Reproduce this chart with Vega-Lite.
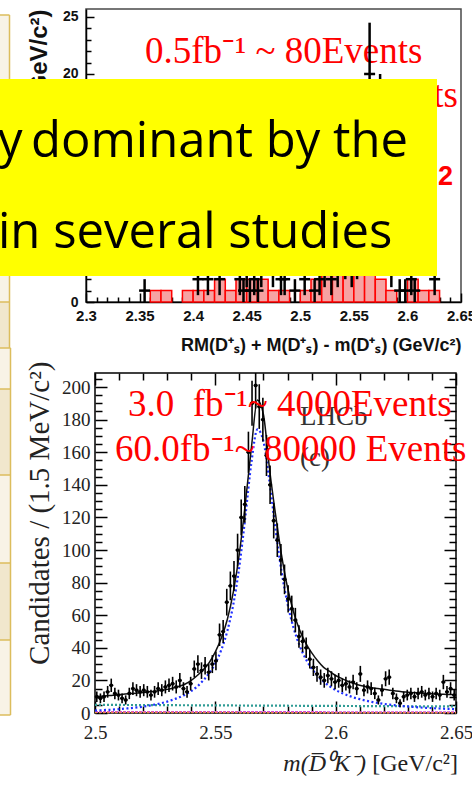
{
  "$schema": "https://vega.github.io/schema/vega-lite/v6.json",
  "autosize": {"type": "none"},
  "padding": {"left": 86, "top": 9, "right": 386, "bottom": 778},
  "background": "white",
  "config": {"font": "Liberation Sans", "axis": {"grid": false}},
  "align": "each",
  "bounds": "full",
  "spacing": -8,
  "datasets": {
    "stripTop": [
      {"x1": 2.21787, "x2": 2.2286, "y1": 25.174, "y2": 0, "tone": "light"},
      {"x1": 2.21787, "x2": 2.2286, "y1": 0, "y2": -4.21, "tone": "dark"}
    ],
    "edgeTop": [
      {"x1": 2.2188, "x2": 2.2286, "y1": 25.174, "y2": 25.174},
      {"x1": 2.2188, "x2": 2.2286, "y1": 0, "y2": 0},
      {"x1": 2.2286, "x2": 2.2286, "y1": 25.174, "y2": -4.21}
    ],
    "stripBot": [
      {"x1": 2.459695, "x2": 2.464889, "y1": 223.94, "y2": 198.78, "tone": "light"},
      {"x1": 2.459695, "x2": 2.464889, "y1": 198.78, "y2": 146.02, "tone": "dark"},
      {"x1": 2.459695, "x2": 2.464889, "y1": 146.02, "y2": 92.03, "tone": "light"},
      {"x1": 2.459695, "x2": 2.464889, "y1": 92.03, "y2": 44.79, "tone": "dark"},
      {"x1": 2.459695, "x2": 2.464889, "y1": 44.79, "y2": -1.227, "tone": "light"}
    ],
    "edgeBot": [
      {"x1": 2.460111, "x2": 2.464889, "y1": 223.94, "y2": 223.94},
      {"x1": 2.460111, "x2": 2.464889, "y1": 198.78, "y2": 198.78},
      {"x1": 2.460111, "x2": 2.464889, "y1": 146.02, "y2": 146.02},
      {"x1": 2.460111, "x2": 2.464889, "y1": 92.03, "y2": 92.03},
      {"x1": 2.460111, "x2": 2.464889, "y1": 44.79, "y2": 44.79},
      {"x1": 2.460111, "x2": 2.464889, "y1": -1.227, "y2": -1.227},
      {"x1": 2.464889, "x2": 2.464889, "y1": 223.94, "y2": -1.227}
    ],
    "bins": [
      {"lo": 2.36, "hi": 2.37, "n": 1}, {"lo": 2.37, "hi": 2.38, "n": 1},
      {"lo": 2.39, "hi": 2.40, "n": 1}, {"lo": 2.40, "hi": 2.41, "n": 1},
      {"lo": 2.41, "hi": 2.42, "n": 1}, {"lo": 2.42, "hi": 2.43, "n": 2},
      {"lo": 2.43, "hi": 2.44, "n": 1}, {"lo": 2.44, "hi": 2.45, "n": 2},
      {"lo": 2.45, "hi": 2.46, "n": 2}, {"lo": 2.46, "hi": 2.47, "n": 2},
      {"lo": 2.47, "hi": 2.48, "n": 1}, {"lo": 2.48, "hi": 2.49, "n": 1},
      {"lo": 2.50, "hi": 2.51, "n": 1}, {"lo": 2.51, "hi": 2.52, "n": 2},
      {"lo": 2.52, "hi": 2.53, "n": 3}, {"lo": 2.53, "hi": 2.54, "n": 3},
      {"lo": 2.54, "hi": 2.55, "n": 4}, {"lo": 2.55, "hi": 2.56, "n": 4},
      {"lo": 2.56, "hi": 2.57, "n": 3}, {"lo": 2.57, "hi": 2.58, "n": 2},
      {"lo": 2.58, "hi": 2.59, "n": 1}, {"lo": 2.60, "hi": 2.61, "n": 2},
      {"lo": 2.61, "hi": 2.62, "n": 1}, {"lo": 2.62, "hi": 2.63, "n": 1}
    ],
    "bes": [
      {"m": 2.3547, "n": 1, "e": 1}, {"m": 2.4045, "n": 2, "e": 1.4},
      {"m": 2.4138, "n": 2, "e": 1.4}, {"m": 2.4247, "n": 2, "e": 1.4},
      {"m": 2.4436, "n": 2, "e": 1.4}, {"m": 2.447, "n": 1, "e": 1},
      {"m": 2.45, "n": 3, "e": 1.7}, {"m": 2.453, "n": 1, "e": 1},
      {"m": 2.457, "n": 2, "e": 1.4}, {"m": 2.4605, "n": 1, "e": 1},
      {"m": 2.4636, "n": 3, "e": 1.7}, {"m": 2.4745, "n": 3, "e": 1.7},
      {"m": 2.482, "n": 2, "e": 1.4}, {"m": 2.4854, "n": 2, "e": 1.4},
      {"m": 2.495, "n": 1, "e": 1}, {"m": 2.5041, "n": 2, "e": 1.4},
      {"m": 2.5134, "n": 1, "e": 1}, {"m": 2.518, "n": 2, "e": 1.4},
      {"m": 2.5227, "n": 3, "e": 1.7}, {"m": 2.529, "n": 2, "e": 1.4},
      {"m": 2.5349, "n": 3, "e": 1.7}, {"m": 2.542, "n": 4, "e": 2},
      {"m": 2.548, "n": 3, "e": 1.7}, {"m": 2.553, "n": 4, "e": 2},
      {"m": 2.56, "n": 5, "e": 2.2}, {"m": 2.5647, "n": 20, "e": 4.5},
      {"m": 2.5745, "n": 16, "e": 4}, {"m": 2.585, "n": 3, "e": 1.7},
      {"m": 2.5928, "n": 1, "e": 1}, {"m": 2.598, "n": 1, "e": 1},
      {"m": 2.6036, "n": 2, "e": 1.4}, {"m": 2.6068, "n": 1, "e": 1},
      {"m": 2.6254, "n": 2, "e": 1.4}
    ],
    "lhcb": [
      {"m": 2.50075, "n": 10, "e": 3.2}, {"m": 2.50225, "n": 9, "e": 3}, {"m": 2.50375, "n": 10, "e": 3.2},
      {"m": 2.50525, "n": 13, "e": 3.6}, {"m": 2.50675, "n": 17, "e": 4.1}, {"m": 2.50825, "n": 12, "e": 3.5},
      {"m": 2.50975, "n": 11, "e": 3.3}, {"m": 2.51125, "n": 9, "e": 3}, {"m": 2.51275, "n": 8, "e": 2.8},
      {"m": 2.51425, "n": 12, "e": 3.5}, {"m": 2.51575, "n": 15, "e": 3.9}, {"m": 2.51725, "n": 14, "e": 3.7},
      {"m": 2.51875, "n": 13, "e": 3.6}, {"m": 2.52025, "n": 14, "e": 3.7}, {"m": 2.52175, "n": 13, "e": 3.6},
      {"m": 2.52325, "n": 11, "e": 3.3}, {"m": 2.52475, "n": 13, "e": 3.6}, {"m": 2.52625, "n": 15, "e": 3.9},
      {"m": 2.52775, "n": 14, "e": 3.7}, {"m": 2.52925, "n": 16, "e": 4}, {"m": 2.53075, "n": 17, "e": 4.1},
      {"m": 2.53225, "n": 18, "e": 4.2}, {"m": 2.53375, "n": 16, "e": 4}, {"m": 2.53525, "n": 20, "e": 4.5},
      {"m": 2.53675, "n": 15, "e": 3.9}, {"m": 2.53825, "n": 13, "e": 3.6}, {"m": 2.53975, "n": 18, "e": 4.2},
      {"m": 2.54125, "n": 27, "e": 5.2}, {"m": 2.54275, "n": 30, "e": 5.5}, {"m": 2.54425, "n": 26, "e": 5.1},
      {"m": 2.54575, "n": 29, "e": 5.4}, {"m": 2.54725, "n": 25, "e": 5}, {"m": 2.54875, "n": 30, "e": 5.5},
      {"m": 2.55025, "n": 32, "e": 5.7}, {"m": 2.55175, "n": 48, "e": 6.9}, {"m": 2.55325, "n": 50, "e": 7.1},
      {"m": 2.55475, "n": 68, "e": 8.2}, {"m": 2.55625, "n": 78, "e": 8.8}, {"m": 2.55775, "n": 84, "e": 9.2},
      {"m": 2.55925, "n": 100, "e": 10}, {"m": 2.56075, "n": 120, "e": 11}, {"m": 2.56225, "n": 128, "e": 11.3},
      {"m": 2.56375, "n": 160, "e": 12.6}, {"m": 2.56525, "n": 190, "e": 13.8}, {"m": 2.56675, "n": 201, "e": 14.2},
      {"m": 2.56825, "n": 188, "e": 13.7}, {"m": 2.56975, "n": 180, "e": 13.4}, {"m": 2.57125, "n": 158, "e": 12.6},
      {"m": 2.57275, "n": 140, "e": 11.8}, {"m": 2.57425, "n": 118, "e": 10.9}, {"m": 2.57575, "n": 106, "e": 10.3},
      {"m": 2.57725, "n": 94, "e": 9.7}, {"m": 2.57875, "n": 82, "e": 9.1}, {"m": 2.58025, "n": 70, "e": 8.4},
      {"m": 2.58175, "n": 64, "e": 8}, {"m": 2.58325, "n": 57, "e": 7.5}, {"m": 2.58475, "n": 47, "e": 6.9},
      {"m": 2.58625, "n": 44, "e": 6.6}, {"m": 2.58775, "n": 40, "e": 6.3}, {"m": 2.58925, "n": 33, "e": 5.7},
      {"m": 2.59075, "n": 28, "e": 5.3}, {"m": 2.59225, "n": 24, "e": 4.9}, {"m": 2.59375, "n": 22, "e": 4.7},
      {"m": 2.59525, "n": 20, "e": 4.5}, {"m": 2.59675, "n": 23, "e": 4.8}, {"m": 2.59825, "n": 21, "e": 4.6},
      {"m": 2.59975, "n": 19, "e": 4.4}, {"m": 2.60125, "n": 20, "e": 4.5}, {"m": 2.60275, "n": 17, "e": 4.1},
      {"m": 2.60425, "n": 18, "e": 4.2}, {"m": 2.60575, "n": 16, "e": 4}, {"m": 2.60725, "n": 19, "e": 4.4},
      {"m": 2.60875, "n": 15, "e": 3.9}, {"m": 2.61025, "n": 24, "e": 4.9}, {"m": 2.61175, "n": 14, "e": 3.7},
      {"m": 2.61325, "n": 16, "e": 4}, {"m": 2.61475, "n": 15, "e": 3.9}, {"m": 2.61625, "n": 12, "e": 3.5},
      {"m": 2.61775, "n": 8, "e": 2.8}, {"m": 2.61925, "n": 14, "e": 3.7}, {"m": 2.62075, "n": 21, "e": 4.6},
      {"m": 2.62225, "n": 22, "e": 4.7}, {"m": 2.62375, "n": 12, "e": 3.5}, {"m": 2.62525, "n": 9, "e": 3},
      {"m": 2.62675, "n": 6, "e": 2.4}, {"m": 2.62825, "n": 10, "e": 3.2}, {"m": 2.62975, "n": 11, "e": 3.3},
      {"m": 2.63125, "n": 12, "e": 3.5}, {"m": 2.63275, "n": 10, "e": 3.2}, {"m": 2.63425, "n": 12, "e": 3.5},
      {"m": 2.63575, "n": 13, "e": 3.6}, {"m": 2.63725, "n": 11, "e": 3.3}, {"m": 2.63875, "n": 12, "e": 3.5},
      {"m": 2.64025, "n": 10, "e": 3.2}, {"m": 2.64175, "n": 12, "e": 3.5}, {"m": 2.64325, "n": 11, "e": 3.3},
      {"m": 2.64475, "n": 19, "e": 4.4}, {"m": 2.64625, "n": 13, "e": 3.6}, {"m": 2.64775, "n": 15, "e": 3.9},
      {"m": 2.64925, "n": 11, "e": 3.3}
    ],
    "fit": [
      {"m": 2.5, "tot": 10.0, "sig": 1.5}, {"m": 2.5025, "tot": 10.3, "sig": 1.7},
      {"m": 2.505, "tot": 10.6, "sig": 1.9}, {"m": 2.5075, "tot": 10.9, "sig": 2.1},
      {"m": 2.51, "tot": 11.3, "sig": 2.4}, {"m": 2.5125, "tot": 11.6, "sig": 2.7},
      {"m": 2.515, "tot": 11.9, "sig": 3.0}, {"m": 2.5175, "tot": 12.2, "sig": 3.4},
      {"m": 2.52, "tot": 12.6, "sig": 3.9}, {"m": 2.5225, "tot": 13.0, "sig": 4.5},
      {"m": 2.525, "tot": 13.4, "sig": 5.2}, {"m": 2.5275, "tot": 13.9, "sig": 6.0},
      {"m": 2.53, "tot": 14.5, "sig": 7.0}, {"m": 2.5325, "tot": 15.3, "sig": 8.2},
      {"m": 2.535, "tot": 16.4, "sig": 9.6}, {"m": 2.5375, "tot": 17.8, "sig": 11.3},
      {"m": 2.54, "tot": 20.0, "sig": 13.5}, {"m": 2.5425, "tot": 23.0, "sig": 16.3},
      {"m": 2.545, "tot": 26.5, "sig": 20.0}, {"m": 2.5475, "tot": 31.0, "sig": 24.5},
      {"m": 2.55, "tot": 37.5, "sig": 30.5}, {"m": 2.5525, "tot": 46.0, "sig": 38.8},
      {"m": 2.555, "tot": 57.5, "sig": 50.4}, {"m": 2.5575, "tot": 74.5, "sig": 66.9},
      {"m": 2.56, "tot": 98.0, "sig": 90.2}, {"m": 2.5625, "tot": 129.0, "sig": 120.9},
      {"m": 2.565, "tot": 163.0, "sig": 153.9}, {"m": 2.5675, "tot": 192.0, "sig": 174.0},
      {"m": 2.57, "tot": 183.0, "sig": 166.6}, {"m": 2.5725, "tot": 150.0, "sig": 142.1},
      {"m": 2.575, "tot": 122.0, "sig": 112.8}, {"m": 2.5775, "tot": 97.0, "sig": 87.0},
      {"m": 2.58, "tot": 77.0, "sig": 67.0}, {"m": 2.5825, "tot": 62.0, "sig": 52.3},
      {"m": 2.585, "tot": 51.0, "sig": 41.4}, {"m": 2.5875, "tot": 43.0, "sig": 33.4},
      {"m": 2.59, "tot": 37.0, "sig": 27.4}, {"m": 2.5925, "tot": 32.0, "sig": 22.7},
      {"m": 2.595, "tot": 28.0, "sig": 19.2}, {"m": 2.5975, "tot": 25.5, "sig": 16.4},
      {"m": 2.6, "tot": 23.0, "sig": 14.1}, {"m": 2.6025, "tot": 21.2, "sig": 12.3},
      {"m": 2.605, "tot": 19.5, "sig": 10.8}, {"m": 2.6075, "tot": 18.2, "sig": 9.5},
      {"m": 2.61, "tot": 17.0, "sig": 8.5}, {"m": 2.6125, "tot": 16.2, "sig": 7.6},
      {"m": 2.615, "tot": 15.5, "sig": 6.8}, {"m": 2.6175, "tot": 15.0, "sig": 6.2},
      {"m": 2.62, "tot": 14.5, "sig": 5.6}, {"m": 2.6225, "tot": 14.0, "sig": 5.1},
      {"m": 2.625, "tot": 13.5, "sig": 4.7}, {"m": 2.6275, "tot": 13.1, "sig": 4.3},
      {"m": 2.63, "tot": 12.8, "sig": 4.0}, {"m": 2.6325, "tot": 12.5, "sig": 3.7},
      {"m": 2.635, "tot": 12.2, "sig": 3.4}, {"m": 2.6375, "tot": 12.0, "sig": 3.2},
      {"m": 2.64, "tot": 11.8, "sig": 3.0}, {"m": 2.6425, "tot": 11.6, "sig": 2.8},
      {"m": 2.645, "tot": 11.5, "sig": 2.6}, {"m": 2.6475, "tot": 11.3, "sig": 2.5},
      {"m": 2.65, "tot": 11.2, "sig": 2.3}
    ],
    "flat": [
      {"m": 2.5, "teal": 5.0, "mag": 0.6, "org": 0.25},
      {"m": 2.65, "teal": 4.0, "mag": 0.5, "org": 0.2}
    ]
  },
  "vconcat": [
    {
      "width": 375,
      "height": 293,
      "view": {"stroke": "#4a4a4a", "strokeWidth": 1.5},
      "resolve": {"axis": {"x": "independent", "y": "independent"}},
      "layer": [
        {
          "data": {"name": "stripTop"},
          "mark": {"type": "rect", "clip": false},
          "encoding": {
            "x": {"field": "x1", "type": "quantitative", "scale": {"domain": [2.3, 2.65], "nice": false, "zero": false}, "axis": null},
            "x2": {"field": "x2"},
            "y": {"field": "y1", "type": "quantitative", "scale": {"domain": [0, 25.7], "nice": false, "zero": false}, "axis": null},
            "y2": {"field": "y2"},
            "fill": {"field": "tone", "type": "nominal", "scale": {"domain": ["light", "dark"], "range": ["#f8f3e6", "#f1e7cd"]}, "legend": null}
          }
        },
        {
          "data": {"name": "edgeTop"},
          "mark": {"type": "rule", "clip": false, "color": "#dcbd5c", "strokeWidth": 1.5},
          "encoding": {
            "x": {"field": "x1", "type": "quantitative", "scale": {"domain": [2.3, 2.65], "nice": false, "zero": false}, "axis": null},
            "x2": {"field": "x2"},
            "y": {"field": "y1", "type": "quantitative", "scale": {"domain": [0, 25.7], "nice": false, "zero": false}, "axis": null},
            "y2": {"field": "y2"}
          }
        },
        {
          "data": {"values": [{"label": "0.5fb⁻¹ ~ 80Events", "x": 2.35507, "y": 20.99}]},
          "mark": {"type": "text", "font": "Liberation Serif", "fontSize": 37, "color": "#ff0000", "align": "left", "baseline": "alphabetic", "clip": false},
          "encoding": {
            "x": {"field": "x", "type": "quantitative", "scale": {"domain": [2.3, 2.65], "nice": false, "zero": false}, "axis": null},
            "y": {"field": "y", "type": "quantitative", "scale": {"domain": [0, 25.7], "nice": false, "zero": false}, "axis": null},
            "text": {"field": "label"}
          }
        },
        {
          "data": {"values": [{"label": "2.0fb⁻¹ ~ 320Events", "x": 2.6472, "y": 17.104}]},
          "mark": {"type": "text", "font": "Liberation Serif", "fontSize": 37, "color": "#ff0000", "align": "right", "baseline": "alphabetic", "clip": false},
          "encoding": {
            "x": {"field": "x", "type": "quantitative", "scale": {"domain": [2.3, 2.65], "nice": false, "zero": false}, "axis": null},
            "y": {"field": "y", "type": "quantitative", "scale": {"domain": [0, 25.7], "nice": false, "zero": false}, "axis": null},
            "text": {"field": "label"}
          }
        },
        {
          "data": {"values": [{"label": "Phase 2", "x": 2.64253, "y": 10.262}]},
          "mark": {"type": "text", "font": "Liberation Sans", "fontWeight": "bold", "fontSize": 27, "color": "#ff0000", "align": "right", "baseline": "alphabetic", "clip": false},
          "encoding": {
            "x": {"field": "x", "type": "quantitative", "scale": {"domain": [2.3, 2.65], "nice": false, "zero": false}, "axis": null},
            "y": {"field": "y", "type": "quantitative", "scale": {"domain": [0, 25.7], "nice": false, "zero": false}, "axis": null},
            "text": {"field": "label"}
          }
        },
        {
          "data": {"name": "bins"},
          "mark": {"type": "rect", "fill": "#f6a3a3", "stroke": "#ff0000", "strokeWidth": 1.5},
          "encoding": {
            "x": {"field": "lo", "type": "quantitative", "scale": {"domain": [2.3, 2.65], "nice": false, "zero": false}, "axis": null},
            "x2": {"field": "hi"},
            "y": {"field": "n", "type": "quantitative", "scale": {"domain": [0, 25.7], "nice": false, "zero": false}, "axis": null},
            "y2": {"datum": 0}
          }
        },
        {
          "mark": {"type": "rule", "color": "#ff0000", "strokeWidth": 2},
          "encoding": {
            "y": {"datum": 0, "type": "quantitative", "scale": {"domain": [0, 25.7], "nice": false, "zero": false}, "axis": null}
          }
        },
        {
          "data": {"name": "bes"},
          "mark": {"type": "errorbar", "ticks": false, "color": "black", "thickness": 2.5},
          "encoding": {
            "x": {"field": "m", "type": "quantitative", "scale": {"domain": [2.3, 2.65], "nice": false, "zero": false}, "axis": null},
            "y": {"field": "n", "type": "quantitative", "scale": {"domain": [0, 25.7], "nice": false, "zero": false}, "axis": null},
            "yError": {"field": "e"}
          }
        },
        {
          "data": {"name": "bes"},
          "mark": {"type": "tick", "orient": "horizontal", "size": 11, "thickness": 2.5, "color": "black", "opacity": 1},
          "encoding": {
            "x": {
              "field": "m", "type": "quantitative",
              "scale": {"domain": [2.3, 2.65], "nice": false, "zero": false},
              "axis": {
                "orient": "bottom",
                "values": [2.3, 2.31, 2.32, 2.33, 2.34, 2.35, 2.36, 2.37, 2.38, 2.39, 2.4, 2.41, 2.42, 2.43, 2.44, 2.45, 2.46, 2.47, 2.48, 2.49, 2.5, 2.51, 2.52, 2.53, 2.54, 2.55, 2.56, 2.57, 2.58, 2.59, 2.6, 2.61, 2.62, 2.63, 2.64, 2.65],
                "format": ".2~f",
                "labelExpr": "abs(datum.value*20-round(datum.value*20)) < 0.001 ? datum.label : ''",
                "tickSize": {"condition": {"test": "abs(datum.value*20-round(datum.value*20)) < 0.001", "value": -9}, "value": -5},
                "tickColor": "black", "tickWidth": 1.5,
                "domainColor": "black", "domainWidth": 1.5,
                "labelFont": "Liberation Sans", "labelFontWeight": "bold", "labelFontSize": 15, "labelColor": "#111",
                "labelPadding": 15, "labelFlush": false, "labelOverlap": false, "labelBound": false,
                "title": "RM(D⁺ₛ) + M(D⁺ₛ) - m(D⁺ₛ) (GeV/c²)",
                "titleFont": "Liberation Sans", "titleFontWeight": "bold", "titleFontSize": 18, "titleColor": "#111",
                "titleAlign": "right", "titleBaseline": "alphabetic", "titleX": 375, "titleY": 48
              }
            },
            "y": {
              "field": "n", "type": "quantitative",
              "scale": {"domain": [0, 25.7], "nice": false, "zero": false},
              "axis": {
                "orient": "left",
                "values": [0, 1, 2, 3, 4, 5, 6, 7, 8, 9, 10, 11, 12, 13, 14, 15, 16, 17, 18, 19, 20, 21, 22, 23, 24, 25],
                "labelExpr": "datum.value % 5 == 0 ? datum.label : ''",
                "tickSize": {"condition": {"test": "datum.value % 5 == 0", "value": -8}, "value": -5},
                "tickColor": "black", "tickWidth": 1.5,
                "domainColor": "black", "domainWidth": 1.5,
                "labelFont": "Liberation Sans", "labelFontWeight": "bold", "labelFontSize": 14, "labelColor": "#111",
                "labelPadding": 16, "labelOverlap": false, "labelBound": false,
                "title": "Events / (0.01 GeV/c²)",
                "titleFont": "Liberation Sans", "titleFontWeight": "bold", "titleFontSize": 24, "titleColor": "#111",
                "titleAngle": 270, "titleAlign": "right", "titleBaseline": "alphabetic", "titleX": -40, "titleY": 0
              }
            }
          }
        },
        {
          "data": {"values": [{"x1": 2.21787, "x2": 2.6276, "y1": 19.56, "y2": 2.2805}]},
          "mark": {"type": "rect", "fill": "#ffff00", "clip": false},
          "encoding": {
            "x": {"field": "x1", "type": "quantitative", "scale": {"domain": [2.3, 2.65], "nice": false, "zero": false}, "axis": null},
            "x2": {"field": "x2"},
            "y": {"field": "y1", "type": "quantitative", "scale": {"domain": [0, 25.7], "nice": false, "zero": false}, "axis": null},
            "y2": {"field": "y2"}
          }
        },
        {
          "data": {"values": [{"label": "y", "x": 2.21787, "y": 12.718}, {"label": "in several studies", "x": 2.21787, "y": 4.737}]},
          "mark": {"type": "text", "font": "Open Sans", "fontSize": 49, "color": "black", "align": "left", "baseline": "alphabetic", "clip": false},
          "encoding": {
            "x": {"field": "x", "type": "quantitative", "scale": {"domain": [2.3, 2.65], "nice": false, "zero": false}, "axis": null},
            "y": {"field": "y", "type": "quantitative", "scale": {"domain": [0, 25.7], "nice": false, "zero": false}, "axis": null},
            "text": {"field": "label"}
          }
        },
        {
          "data": {"values": [{"label": "dominant by the", "x": 2.60053, "y": 12.718}]},
          "mark": {"type": "text", "font": "Open Sans", "fontSize": 49, "color": "black", "align": "right", "baseline": "alphabetic", "clip": false},
          "encoding": {
            "x": {"field": "x", "type": "quantitative", "scale": {"domain": [2.3, 2.65], "nice": false, "zero": false}, "axis": null},
            "y": {"field": "y", "type": "quantitative", "scale": {"domain": [0, 25.7], "nice": false, "zero": false}, "axis": null},
            "text": {"field": "label"}
          }
        }
      ]
    },
    {
      "width": 370,
      "height": 340,
      "view": {"stroke": null},
      "resolve": {"axis": {"x": "independent", "y": "independent"}},
      "layer": [
        {
          "data": {"name": "stripBot"},
          "mark": {"type": "rect", "clip": false},
          "encoding": {
            "x": {"field": "x1", "type": "quantitative", "scale": {"domain": [2.49626, 2.65], "nice": false, "zero": false}, "axis": null},
            "x2": {"field": "x2"},
            "y": {"field": "y1", "type": "quantitative", "scale": {"domain": [0, 208.6], "nice": false, "zero": false}, "axis": null},
            "y2": {"field": "y2"},
            "fill": {"field": "tone", "type": "nominal", "scale": {"domain": ["light", "dark"], "range": ["#f8f3e6", "#f1e7cd"]}, "legend": null}
          }
        },
        {
          "data": {"name": "edgeBot"},
          "mark": {"type": "rule", "clip": false, "color": "#dcbd5c", "strokeWidth": 1.5},
          "encoding": {
            "x": {"field": "x1", "type": "quantitative", "scale": {"domain": [2.49626, 2.65], "nice": false, "zero": false}, "axis": null},
            "x2": {"field": "x2"},
            "y": {"field": "y1", "type": "quantitative", "scale": {"domain": [0, 208.6], "nice": false, "zero": false}, "axis": null},
            "y2": {"field": "y2"}
          }
        },
        {
          "data": {"values": [{"x1": 2.5, "x2": 2.65, "y1": 0, "y2": 208.6}]},
          "mark": {"type": "rect", "fill": null, "stroke": "black", "strokeWidth": 1.5, "clip": false},
          "encoding": {
            "x": {"field": "x1", "type": "quantitative", "scale": {"domain": [2.49626, 2.65], "nice": false, "zero": false}, "axis": null},
            "x2": {"field": "x2"},
            "y": {"field": "y1", "type": "quantitative", "scale": {"domain": [0, 208.6], "nice": false, "zero": false}, "axis": null},
            "y2": {"field": "y2"}
          }
        },
        {
          "data": {"name": "flat"},
          "mark": {"type": "line", "color": "#2f9c95", "strokeWidth": 2.2, "strokeDash": [2, 2]},
          "encoding": {
            "x": {"field": "m", "type": "quantitative", "scale": {"domain": [2.49626, 2.65], "nice": false, "zero": false}, "axis": null},
            "y": {"field": "teal", "type": "quantitative", "scale": {"domain": [0, 208.6], "nice": false, "zero": false}, "axis": null}
          }
        },
        {
          "data": {"name": "flat"},
          "mark": {"type": "line", "color": "#d64fd6", "strokeWidth": 2, "strokeDash": [3, 1]},
          "encoding": {
            "x": {"field": "m", "type": "quantitative", "scale": {"domain": [2.49626, 2.65], "nice": false, "zero": false}, "axis": null},
            "y": {"field": "mag", "type": "quantitative", "scale": {"domain": [0, 208.6], "nice": false, "zero": false}, "axis": null}
          }
        },
        {
          "data": {"name": "flat"},
          "mark": {"type": "line", "color": "#ee8a3c", "strokeWidth": 1.5, "strokeDash": [2, 2]},
          "encoding": {
            "x": {"field": "m", "type": "quantitative", "scale": {"domain": [2.49626, 2.65], "nice": false, "zero": false}, "axis": null},
            "y": {"field": "org", "type": "quantitative", "scale": {"domain": [0, 208.6], "nice": false, "zero": false}, "axis": null}
          }
        },
        {
          "data": {"name": "fit"},
          "mark": {"type": "line", "color": "#1f2fff", "strokeWidth": 2.2, "strokeDash": [2, 2.5], "interpolate": "monotone"},
          "encoding": {
            "x": {"field": "m", "type": "quantitative", "scale": {"domain": [2.49626, 2.65], "nice": false, "zero": false}, "axis": null},
            "y": {"field": "sig", "type": "quantitative", "scale": {"domain": [0, 208.6], "nice": false, "zero": false}, "axis": null}
          }
        },
        {
          "data": {"name": "fit"},
          "mark": {"type": "line", "color": "#111", "strokeWidth": 1.5, "interpolate": "monotone"},
          "encoding": {
            "x": {
              "field": "m", "type": "quantitative",
              "scale": {"domain": [2.49626, 2.65], "nice": false, "zero": false},
              "axis": {
                "orient": "top",
                "values": [2.5, 2.51, 2.52, 2.53, 2.54, 2.55, 2.56, 2.57, 2.58, 2.59, 2.6, 2.61, 2.62, 2.63, 2.64, 2.65],
                "labels": false, "domain": false, "title": null,
                "tickSize": {"condition": {"test": "abs(datum.value*20-round(datum.value*20)) < 0.001", "value": -12}, "value": -7},
                "tickColor": "black", "tickWidth": 1.5
              }
            },
            "y": {
              "field": "tot", "type": "quantitative",
              "scale": {"domain": [0, 208.6], "nice": false, "zero": false},
              "axis": {
                "orient": "right",
                "values": [0, 5, 10, 15, 20, 25, 30, 35, 40, 45, 50, 55, 60, 65, 70, 75, 80, 85, 90, 95, 100, 105, 110, 115, 120, 125, 130, 135, 140, 145, 150, 155, 160, 165, 170, 175, 180, 185, 190, 195, 200, 205],
                "labels": false, "domain": false, "title": null,
                "tickSize": {"condition": {"test": "datum.value % 20 == 0", "value": -12}, "value": -7},
                "tickColor": "black", "tickWidth": 1.5
              }
            }
          }
        },
        {
          "data": {"values": [{"label": "LHCb", "x": 2.58518, "y": 176.7}, {"label": "(c)", "x": 2.58518, "y": 151.54}]},
          "mark": {"type": "text", "font": "Liberation Serif", "fontSize": 27, "color": "#333", "align": "left", "baseline": "alphabetic"},
          "encoding": {
            "x": {"field": "x", "type": "quantitative", "scale": {"domain": [2.49626, 2.65], "nice": false, "zero": false}, "axis": null},
            "y": {"field": "y", "type": "quantitative", "scale": {"domain": [0, 208.6], "nice": false, "zero": false}, "axis": null},
            "text": {"field": "label"}
          }
        },
        {
          "data": {"name": "lhcb"},
          "mark": {"type": "errorbar", "ticks": false, "color": "black", "thickness": 1.6, "clip": true},
          "encoding": {
            "x": {"field": "m", "type": "quantitative", "scale": {"domain": [2.49626, 2.65], "nice": false, "zero": false}, "axis": null},
            "y": {"field": "n", "type": "quantitative", "scale": {"domain": [0, 208.6], "nice": false, "zero": false}, "axis": null},
            "yError": {"field": "e"}
          }
        },
        {
          "data": {"name": "lhcb"},
          "mark": {"type": "tick", "orient": "horizontal", "size": 4, "thickness": 1.5, "color": "black", "opacity": 1},
          "encoding": {
            "x": {"field": "m", "type": "quantitative", "scale": {"domain": [2.49626, 2.65], "nice": false, "zero": false}, "axis": null},
            "y": {"field": "n", "type": "quantitative", "scale": {"domain": [0, 208.6], "nice": false, "zero": false}, "axis": null}
          }
        },
        {
          "data": {"name": "lhcb"},
          "mark": {"type": "circle", "size": 14, "color": "black", "opacity": 1},
          "encoding": {
            "x": {
              "field": "m", "type": "quantitative",
              "scale": {"domain": [2.49626, 2.65], "nice": false, "zero": false},
              "axis": {
                "orient": "bottom",
                "values": [2.5, 2.51, 2.52, 2.53, 2.54, 2.55, 2.56, 2.57, 2.58, 2.59, 2.6, 2.61, 2.62, 2.63, 2.64, 2.65],
                "format": ".2~f",
                "labelExpr": "abs(datum.value*20-round(datum.value*20)) < 0.001 ? datum.label : ''",
                "tickSize": {"condition": {"test": "abs(datum.value*20-round(datum.value*20)) < 0.001", "value": -12}, "value": -7},
                "tickColor": "black", "tickWidth": 1.5,
                "domain": false,
                "labelFont": "Liberation Serif", "labelFontSize": 19, "labelColor": "#222",
                "labelPadding": 22, "labelFlush": false, "labelOverlap": false, "labelBound": false,
                "title": null
              }
            },
            "y": {
              "field": "n", "type": "quantitative",
              "scale": {"domain": [0, 208.6], "nice": false, "zero": false},
              "axis": {
                "orient": "left",
                "offset": -9,
                "values": [0, 5, 10, 15, 20, 25, 30, 35, 40, 45, 50, 55, 60, 65, 70, 75, 80, 85, 90, 95, 100, 105, 110, 115, 120, 125, 130, 135, 140, 145, 150, 155, 160, 165, 170, 175, 180, 185, 190, 195, 200, 205],
                "labelExpr": "datum.value % 20 == 0 ? datum.label : ''",
                "tickSize": {"condition": {"test": "datum.value % 20 == 0", "value": -12}, "value": -7},
                "tickColor": "black", "tickWidth": 1.5,
                "domain": false,
                "labelFont": "Liberation Serif", "labelFontSize": 19, "labelColor": "#222",
                "labelPadding": 17, "labelOverlap": false, "labelBound": false,
                "title": "Candidates / (1.5 MeV/c²)",
                "titleFont": "Liberation Serif", "titleFontWeight": "normal", "titleFontSize": 29, "titleColor": "#222",
                "titleAngle": 270, "titleAlign": "right", "titleBaseline": "alphabetic", "titleX": -47, "titleY": -12
              }
            }
          }
        },
        {
          "data": {"values": [{"label": "3.0\u00a0\u00a0fb⁻¹~ 4000Events", "x": 2.51371, "y": 182.22}, {"label": "60.0fb⁻¹~ 80000 Events", "x": 2.50831, "y": 154.61}]},
          "mark": {"type": "text", "font": "Liberation Serif", "fontSize": 37, "color": "#ff0000", "align": "left", "baseline": "alphabetic"},
          "encoding": {
            "x": {"field": "x", "type": "quantitative", "scale": {"domain": [2.49626, 2.65], "nice": false, "zero": false}, "axis": null},
            "y": {"field": "y", "type": "quantitative", "scale": {"domain": [0, 208.6], "nice": false, "zero": false}, "axis": null},
            "text": {"field": "label"}
          }
        },
        {
          "data": {"values": [{"label": "m(D̅⁰K⁻)", "x": 2.6126, "y": -35.58}]},
          "mark": {"type": "text", "font": "Liberation Serif", "fontStyle": "italic", "fontSize": 24, "color": "#222", "align": "right", "baseline": "alphabetic", "clip": false},
          "encoding": {
            "x": {"field": "x", "type": "quantitative", "scale": {"domain": [2.49626, 2.65], "nice": false, "zero": false}, "axis": null},
            "y": {"field": "y", "type": "quantitative", "scale": {"domain": [0, 208.6], "nice": false, "zero": false}, "axis": null},
            "text": {"field": "label"}
          }
        },
        {
          "data": {"values": [{"label": "[GeV/c²]", "x": 2.65083, "y": -35.58}]},
          "mark": {"type": "text", "font": "Liberation Serif", "fontSize": 24, "color": "#222", "align": "right", "baseline": "alphabetic", "clip": false},
          "encoding": {
            "x": {"field": "x", "type": "quantitative", "scale": {"domain": [2.49626, 2.65], "nice": false, "zero": false}, "axis": null},
            "y": {"field": "y", "type": "quantitative", "scale": {"domain": [0, 208.6], "nice": false, "zero": false}, "axis": null},
            "text": {"field": "label"}
          }
        }
      ]
    }
  ]
}
